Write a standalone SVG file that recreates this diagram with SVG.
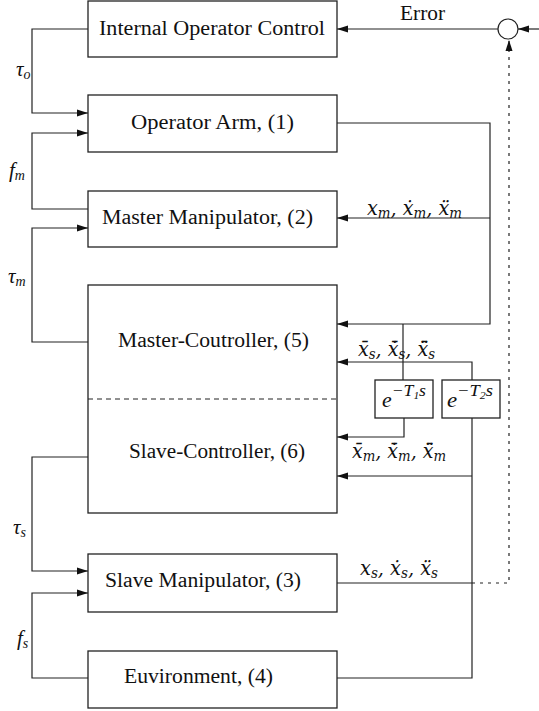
<svg xmlns="http://www.w3.org/2000/svg" width="539" height="711" viewBox="0 0 539 711">
<style>
.box{fill:#fff;stroke:#222;stroke-width:1.3}
.ln{fill:none;stroke:#222;stroke-width:1.2}
.dot{fill:none;stroke:#222;stroke-width:1.2;stroke-dasharray:3 5}
.dash{fill:none;stroke:#222;stroke-width:1;stroke-dasharray:5 4}
.t{font-family:"Liberation Serif","DejaVu Serif",serif;font-size:20px;fill:#111}
.m{font-family:"Liberation Serif","DejaVu Serif",serif;font-style:italic;font-size:21px;fill:#111}
.r{font-family:"DejaVu Serif","Liberation Serif",serif;font-style:italic;font-size:20px;fill:#111}
.sub{font-size:14px}
</style>
<defs>
<marker id="ah" markerUnits="userSpaceOnUse" markerWidth="11" markerHeight="8" refX="11" refY="4" orient="auto">
<path d="M0,0.5 L11,4 L0,7.5 z" fill="#111"/>
</marker>
</defs>

<g id="connectors">
<polyline class="ln" points="88,29 32,29 32,113 88,113" marker-end="url(#ah)"/>
<polyline class="ln" points="88,209 32,209 32,133 88,133" marker-end="url(#ah)"/>
<polyline class="ln" points="88,342 32,342 32,228 88,228" marker-end="url(#ah)"/>
<polyline class="ln" points="88,457 32,457 32,571 88,571" marker-end="url(#ah)"/>
<polyline class="ln" points="88,678 32,678 32,593 88,593" marker-end="url(#ah)"/>
<polyline class="ln" points="337,123 490,123 490,324 337,324" marker-end="url(#ah)"/>
<polyline class="ln" points="490,218 337,218" marker-end="url(#ah)"/>
<polyline class="ln" points="403,324 403,380"/>
<polyline class="ln" points="472,380 472,362 337,362" marker-end="url(#ah)"/>
<polyline class="ln" points="404,418 404,437 337,437" marker-end="url(#ah)"/>
<polyline class="ln" points="472,418 472,678 337,678"/>
<polyline class="ln" points="472,476 337,476" marker-end="url(#ah)"/>
<polyline class="ln" points="337,583 472,583"/>
<polyline class="dot" points="472,583 509,583 509,40" marker-end="url(#ah)"/>
<polyline class="ln" points="498,29 337,29" marker-end="url(#ah)"/>
<polyline class="ln" points="539,29 518,29" marker-end="url(#ah)"/>
<text class="t" x="400" y="20" font-size="19" textLength="45" lengthAdjust="spacingAndGlyphs">Error</text>
<text class="m" x="16" y="76">τ<tspan class="sub" dy="3">o</tspan></text>
<text class="m" x="9" y="177">f<tspan class="sub" dy="3">m</tspan></text>
<text class="m" x="8" y="283">τ<tspan class="sub" dy="3">m</tspan></text>
<text class="m" x="13" y="534">τ<tspan class="sub" dy="3">s</tspan></text>
<text class="m" x="17" y="645">f<tspan class="sub" dy="3">s</tspan></text>
<text class="r" x="367" y="215" textLength="95" lengthAdjust="spacingAndGlyphs">x<tspan class="sub" dy="3">m</tspan><tspan dy="-3">, x&#x307;</tspan><tspan class="sub" dy="3">m</tspan><tspan dy="-3">, x&#x308;</tspan><tspan class="sub" dy="3">m</tspan></text>
<text class="r" x="358" y="356" textLength="77" lengthAdjust="spacingAndGlyphs">x&#x304;<tspan class="sub" dy="3">s</tspan><tspan dy="-3">, x&#x304;&#x307;</tspan><tspan class="sub" dy="3">s</tspan><tspan dy="-3">, x&#x304;&#x308;</tspan><tspan class="sub" dy="3">s</tspan></text>
<text class="r" x="352" y="458" textLength="94" lengthAdjust="spacingAndGlyphs">x&#x304;<tspan class="sub" dy="3">m</tspan><tspan dy="-3">, x&#x304;&#x307;</tspan><tspan class="sub" dy="3">m</tspan><tspan dy="-3">, x&#x304;&#x308;</tspan><tspan class="sub" dy="3">m</tspan></text>
<text class="r" x="360" y="575" textLength="78" lengthAdjust="spacingAndGlyphs">x<tspan class="sub" dy="3">s</tspan><tspan dy="-3">, x&#x307;</tspan><tspan class="sub" dy="3">s</tspan><tspan dy="-3">, x&#x308;</tspan><tspan class="sub" dy="3">s</tspan></text>
</g>

<g id="sum">
<circle cx="508" cy="29" r="10" fill="#fff" stroke="#222" stroke-width="1.2"/>
</g>

<g id="ioc">
<rect class="box" x="88" y="1" width="249" height="56"/>
<text class="t" x="99" y="35" textLength="226" lengthAdjust="spacingAndGlyphs">Internal Operator Control</text>
</g>
<g id="operator-arm">
<rect class="box" x="88" y="95" width="249" height="57"/>
<text class="t" x="131" y="129" textLength="163" lengthAdjust="spacingAndGlyphs">Operator Arm, (1)</text>
</g>
<g id="master-manipulator">
<rect class="box" x="88" y="191" width="249" height="56"/>
<text class="t" x="102" y="224" textLength="211" lengthAdjust="spacingAndGlyphs">Master Manipulator, (2)</text>
</g>
<g id="controller">
<rect class="box" x="88" y="285" width="249" height="228"/>
<line class="dash" x1="88" y1="399" x2="337" y2="399"/>
<text class="t" x="118" y="347" textLength="191" lengthAdjust="spacingAndGlyphs">Master-Coutroller, (5)</text>
<text class="t" x="129" y="458" textLength="176" lengthAdjust="spacingAndGlyphs">Slave-Controller, (6)</text>
</g>
<g id="delay1">
<rect class="box" x="375" y="380" width="58" height="38"/>
<text class="m" x="382" y="407" font-size="26" textLength="44" lengthAdjust="spacingAndGlyphs">e<tspan font-size="17" dy="-11">−T</tspan><tspan font-size="11" dy="3">1</tspan><tspan font-size="17" dy="-3">s</tspan></text>
</g>
<g id="delay2">
<rect class="box" x="442" y="380" width="58" height="38"/>
<text class="m" x="447" y="407" font-size="26" textLength="46" lengthAdjust="spacingAndGlyphs">e<tspan font-size="17" dy="-11">−T</tspan><tspan font-size="11" dy="3">2</tspan><tspan font-size="17" dy="-3">s</tspan></text>
</g>
<g id="slave-manipulator">
<rect class="box" x="88" y="554" width="249" height="58"/>
<text class="t" x="105" y="587" textLength="196" lengthAdjust="spacingAndGlyphs">Slave Manipulator, (3)</text>
</g>
<g id="environment">
<rect class="box" x="88" y="651" width="249" height="57"/>
<text class="t" x="124" y="683" textLength="149" lengthAdjust="spacingAndGlyphs">Euvironment, (4)</text>
</g>
</svg>
